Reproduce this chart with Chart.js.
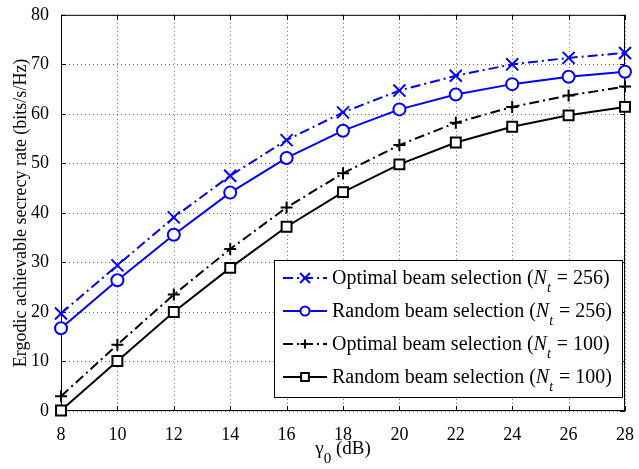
<!DOCTYPE html>
<html>
<head>
<meta charset="utf-8">
<script src="https://cdn.jsdelivr.net/npm/chart.js@4"></script>
<style>
  html, body { margin: 0; padding: 0; background: #fff; }
  #wrap { width: 639px; height: 469px; position: relative; }
</style>
</head>
<body>
<div id="wrap"><canvas id="rateChart"></canvas></div>
<script>
// gamma_0 in dB
const gammaDb = [8, 10, 12, 14, 16, 18, 20, 22, 24, 26, 28];
const yTicks = [0, 10, 20, 30, 40, 50, 60, 70, 80];

// ergodic secrecy rate (bits/s/Hz)
const optimal256 = [19.7, 29.4, 39.1, 47.5, 54.7, 60.3, 64.7, 67.7, 70.0, 71.3, 72.3];
const random256  = [16.7, 26.4, 35.6, 44.1, 51.1, 56.6, 60.9, 63.9, 66.0, 67.5, 68.5];
const optimal100 = [3.0, 13.4, 23.5, 32.7, 41.1, 48.0, 53.7, 58.2, 61.4, 63.7, 65.5];
const random100  = [0.1, 10.1, 20.0, 28.9, 37.2, 44.2, 49.8, 54.2, 57.4, 59.7, 61.4];

const seriesNames = ['Optimal beam selection (', 'Random beam selection (', 'Optimal beam selection (', 'Random beam selection ('];
const seriesNt = ['256', '256', '100', '100'];

const FONT = '"Liberation Serif", "Times New Roman", serif';
const BLUE = '#0000ff';
const DASHDOT = [10, 4, 2, 4];

const toPoints = arr => arr.map((v, i) => ({ x: gammaDb[i], y: v }));

function makeSet(label, values, color, dash, style, radius, fill) {
  return {
    label: label,
    data: toPoints(values),
    borderColor: color,
    borderWidth: 2,
    borderDash: dash,
    pointStyle: style,
    pointRadius: radius,
    pointBorderColor: color,
    pointBackgroundColor: fill,
    pointBorderWidth: 2,
    tension: 0,
    clip: false
  };
}

// dotted grid, box, inward tick marks, legend with subscripts, x title
const matlabLook = {
  id: 'matlabLook',
  beforeDatasetsDraw(chart) {
    const { ctx, chartArea: a, scales } = chart;
    ctx.save();
    // dotted grid
    ctx.strokeStyle = 'rgba(0,0,0,0.6)';
    ctx.lineWidth = 1;
    ctx.setLineDash([1, 3]);
    ctx.beginPath();
    gammaDb.forEach(v => {
      const px = Math.round(scales.x.getPixelForValue(v)) + 0.5;
      ctx.moveTo(px, a.top); ctx.lineTo(px, a.bottom);
    });
    yTicks.forEach(v => {
      const py = Math.round(scales.y.getPixelForValue(v)) + 0.5;
      ctx.moveTo(a.left, py); ctx.lineTo(a.right, py);
    });
    ctx.stroke();
    ctx.setLineDash([]);

    // box and ticks
    ctx.strokeStyle = '#000';
    ctx.strokeRect(a.left + 0.5, a.top + 0.5, a.right - a.left - 1, a.bottom - a.top - 1);
    ctx.beginPath();
    gammaDb.forEach(v => {
      const px = Math.round(scales.x.getPixelForValue(v)) + 0.5;
      ctx.moveTo(px, a.bottom); ctx.lineTo(px, a.bottom - 5);
      ctx.moveTo(px, a.top); ctx.lineTo(px, a.top + 5);
    });
    yTicks.forEach(v => {
      const py = Math.round(scales.y.getPixelForValue(v)) + 0.5;
      ctx.moveTo(a.left, py); ctx.lineTo(a.left + 5, py);
      ctx.moveTo(a.right, py); ctx.lineTo(a.right - 5, py);
    });
    ctx.stroke();
    ctx.restore();
  },
  afterDraw(chart) {
    const { ctx, chartArea: a } = chart;
    ctx.save();

    // x axis title: gamma_0 (dB)
    ctx.fillStyle = '#000';
    ctx.textBaseline = 'alphabetic';
    const cx = (a.left + a.right) / 2;
    ctx.font = '19px ' + FONT;
    const gW = ctx.measureText('\u03b3').width;
    ctx.font = '15px ' + FONT;
    const zW = ctx.measureText('0').width;
    ctx.font = '19px ' + FONT;
    const dW = ctx.measureText(' (dB)').width;
    let tx = cx - (gW + zW + dW) / 2;
    const ty = 454;
    ctx.textAlign = 'left';
    ctx.fillText('\u03b3', tx, ty);
    ctx.font = '15px ' + FONT;
    ctx.fillText('0', tx + gW, ty + 9);
    ctx.font = '19px ' + FONT;
    ctx.fillText(' (dB)', tx + gW + zW, ty);

    // legend
    const bx = 274, by = 260, bw = 348, bh = 137;
    ctx.fillStyle = '#fff';
    ctx.fillRect(bx, by, bw, bh);
    ctx.strokeStyle = '#000';
    ctx.lineWidth = 1;
    ctx.strokeRect(bx + 0.5, by + 0.5, bw, bh);

    chart.data.datasets.forEach((ds, i) => {
      const rowY = by + 18 + i * 33;
      ctx.save();
      ctx.strokeStyle = ds.borderColor;
      ctx.lineWidth = 2;
      ctx.setLineDash(ds.borderDash);
      ctx.beginPath();
      ctx.moveTo(283, rowY);
      ctx.lineTo(327, rowY);
      ctx.stroke();
      ctx.setLineDash([]);
      ctx.fillStyle = ds.pointBackgroundColor;
      ctx.strokeStyle = ds.pointBorderColor;
      ctx.lineWidth = 2;
      Chart.helpers.drawPoint(ctx, { pointStyle: ds.pointStyle, radius: ds.pointRadius - 1.5, borderWidth: 2, rotation: 0 }, 305, rowY);
      ctx.restore();

      ctx.fillStyle = '#000';
      ctx.textAlign = 'left';
      ctx.textBaseline = 'alphabetic';
      let x = 332;
      const base = rowY + 6;
      ctx.font = '20px ' + FONT;
      ctx.fillText(seriesNames[i], x, base);
      x += ctx.measureText(seriesNames[i]).width;
      ctx.font = 'italic 20px ' + FONT;
      ctx.fillText('N', x, base);
      x += ctx.measureText('N').width;
      ctx.font = 'italic 14px ' + FONT;
      ctx.fillText('t', x, base + 8);
      x += ctx.measureText('t').width + 1;
      ctx.font = '20px ' + FONT;
      ctx.fillText(' = ' + seriesNt[i] + ')', x, base);
    });
    ctx.restore();
  }
};

const chart = new Chart(document.getElementById('rateChart'), {
  type: 'line',
  data: {
    datasets: [
      makeSet('Optimal beam selection (Nt = 256)', optimal256, BLUE, DASHDOT, 'crossRot', 8.5, BLUE),
      makeSet('Random beam selection (Nt = 256)', random256, BLUE, [], 'circle', 6, '#fff'),
      makeSet('Optimal beam selection (Nt = 100)', optimal100, '#000', DASHDOT, 'cross', 6, '#000'),
      makeSet('Random beam selection (Nt = 100)', random100, '#000', [], 'rect', 7, '#fff')
    ]
  },
  plugins: [matlabLook],
  options: {
    responsive: true,
    maintainAspectRatio: false,
    animation: false,
    layout: { padding: { left: 0, top: 7, right: 11, bottom: 0 } },
    plugins: {
      legend: { display: false },
      tooltip: { enabled: false }
    },
    scales: {
      x: {
        type: 'linear',
        min: 8,
        max: 28,
        afterBuildTicks: s => { s.ticks = gammaDb.map(v => ({ value: v })); },
        afterFit: s => { s.height = 58; },
        ticks: {
          color: '#000',
          padding: 5,
          maxRotation: 0,
          font: { family: FONT, size: 18 }
        },
        grid: { display: false },
        border: { display: false }
      },
      y: {
        min: 0,
        max: 80,
        afterBuildTicks: s => { s.ticks = yTicks.map(v => ({ value: v })); },
        afterFit: s => { s.width = 61; },
        ticks: {
          color: '#000',
          padding: 4,
          font: { family: FONT, size: 18 }
        },
        title: {
          display: true,
          text: 'Ergodic achievable secrecy rate (bits/s/Hz)',
          color: '#000',
          padding: { top: 10, bottom: 0 },
          font: { family: FONT, size: 18 }
        },
        grid: { display: false },
        border: { display: false }
      }
    }
  }
});
</script>
</body>
</html>
